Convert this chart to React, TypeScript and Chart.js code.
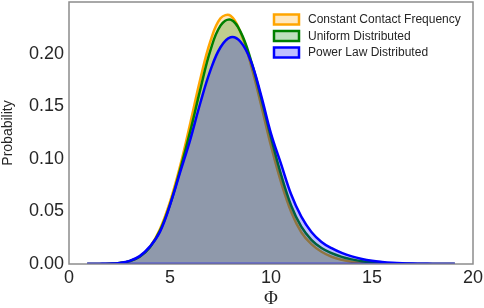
import React, { useEffect, useRef } from 'react';
import { Chart, registerables } from 'chart.js';

Chart.register(...registerables);

const phiValues = [0.9, 1.5, 2, 2.5, 3, 3.5, 4, 4.5, 5, 5.5, 6, 6.5, 7, 7.5, 8, 8.5, 9, 9.5, 10, 10.5, 11, 11.5, 12, 12.5, 13, 13.5, 14, 14.5, 15, 15.5, 16, 16.5, 17, 17.5, 18, 18.5, 19.1];

const constantContact = [0, 0, 0.0002, 0.0008, 0.0026, 0.007, 0.016, 0.033, 0.059, 0.093, 0.1335, 0.1757, 0.2117, 0.2335, 0.236, 0.2197, 0.1898, 0.1518, 0.1123, 0.0775, 0.0495, 0.0302, 0.0188, 0.0116, 0.0069, 0.004, 0.0022, 0.0012, 0.0006, 0.0003, 0.0001, 0, 0, 0, 0, 0, 0];

const uniformDist = [0, 0, 0.0002, 0.0009, 0.0027, 0.0069, 0.0157, 0.0315, 0.0565, 0.0895, 0.126, 0.166, 0.203, 0.2265, 0.2322, 0.2204, 0.1941, 0.1587, 0.1204, 0.0848, 0.0554, 0.0355, 0.023, 0.0152, 0.0103, 0.0068, 0.0044, 0.0026, 0.0015, 0.0008, 0.0004, 0.0002, 0.0001, 0, 0, 0, 0];

const powerLawDist = [0, 0.0001, 0.0003, 0.001, 0.003, 0.0075, 0.0165, 0.0305, 0.056, 0.087, 0.118, 0.153, 0.184, 0.206, 0.2155, 0.211, 0.193, 0.161, 0.124, 0.095, 0.066, 0.045, 0.0305, 0.021, 0.015, 0.0105, 0.0072, 0.0048, 0.0031, 0.002, 0.0012, 0.0007, 0.0004, 0.0002, 0.0001, 0, 0];

const seriesLabels = ['Constant Contact Frequency', 'Uniform Distributed', 'Power Law Distributed'];
const xTickValues = [0, 5, 10, 15, 20];
const yTickValues = [0, 0.05, 0.1, 0.15, 0.2];

const TEXT = '#262626';
const SANS = "'Liberation Sans', Arial, sans-serif";

export default function App() {
  const ref = useRef<HTMLCanvasElement>(null);

  useEffect(() => {
    if (!ref.current) return;
    const toPts = (ys: number[]) => phiValues.map((x, i) => ({ x, y: ys[i] }));

    const framePlugin = {
      id: 'frame',
      afterDraw(chart: any) {
        const { ctx, chartArea: a } = chart;
        ctx.save();
        ctx.strokeStyle = '#8c8c8c';
        ctx.lineWidth = 1.5;
        ctx.strokeRect(a.left, a.top, a.right - a.left, a.bottom - a.top);
        ctx.restore();
      },
    };

    const legendPlugin = {
      id: 'insideLegend',
      afterDraw(chart: any) {
        const { ctx } = chart;
        const rows = [19.5, 36, 52.5];
        ctx.save();
        chart.data.datasets.slice(0, 3).forEach((ds: any, i: number) => {
          const y = rows[i];
          ctx.fillStyle = '#ffffff';
          ctx.fillRect(274, y - 5, 25, 10);
          ctx.fillStyle = ds.backgroundColor;
          ctx.fillRect(274, y - 5, 25, 10);
          ctx.strokeStyle = ds.borderColor;
          ctx.lineWidth = 2.5;
          ctx.strokeRect(274, y - 5, 25, 10);
          ctx.fillStyle = TEXT;
          ctx.font = `12px ${SANS}`;
          ctx.textBaseline = 'middle';
          ctx.textAlign = 'left';
          ctx.fillText(ds.label, 308, y + 0.5);
        });
        ctx.restore();
      },
    };

    const chart = new Chart(ref.current, {
      type: 'line',
      data: {
        datasets: [
          {
            label: seriesLabels[0],
            data: toPts(constantContact),
            borderColor: '#FFA500',
            backgroundColor: 'rgba(255,165,0,0.25)',
            fill: 'origin',
            order: 3,
          },
          {
            label: seriesLabels[1],
            data: toPts(uniformDist),
            borderColor: '#008000',
            backgroundColor: 'rgba(0,128,0,0.25)',
            fill: 'origin',
            order: 2,
          },
          {
            label: seriesLabels[2],
            data: toPts(powerLawDist),
            borderColor: '#0000FF',
            backgroundColor: 'rgba(0,0,255,0.25)',
            fill: 'origin',
            order: 1,
          },
          {
            label: 'baseline',
            data: [
              { x: phiValues[0], y: 0 },
              { x: phiValues[phiValues.length - 1], y: 0 },
            ],
            borderColor: '#0000FF',
            fill: false,
            tension: 0,
            order: 0,
          },
        ],
      } as any,
      options: {
        animation: false,
        responsive: false,
        maintainAspectRatio: false,
        layout: { padding: { left: 0, top: 2, right: 11, bottom: 0 } },
        elements: {
          point: { radius: 0, hoverRadius: 0 },
          line: { borderWidth: 2.5, tension: 0.4 },
        },
        plugins: { legend: { display: false }, tooltip: { enabled: false } },
        scales: {
          x: {
            type: 'linear',
            min: 0,
            max: 20,
            afterBuildTicks: (s: any) => {
              s.ticks = xTickValues.map((v) => ({ value: v }));
            },
            afterFit: (s: any) => {
              s.height = 44;
              s.paddingLeft = 0;
              s.paddingRight = 0;
            },
            grid: { display: false, drawTicks: false },
            border: { display: false },
            ticks: {
              color: TEXT,
              font: { family: SANS, size: 18 },
              padding: 3,
              maxRotation: 0,
              callback: (v: any) => String(v),
            },
            title: {
              display: true,
              text: 'Φ',
              color: TEXT,
              font: { family: "'Liberation Serif', 'DejaVu Serif', serif", size: 19 },
              padding: { top: 0, bottom: -2 },
            },
          },
          y: {
            type: 'linear',
            min: 0,
            max: 0.249,
            afterBuildTicks: (s: any) => {
              s.ticks = yTickValues.map((v) => ({ value: v }));
            },
            afterFit: (s: any) => {
              s.width = 69;
              s.paddingTop = 0;
              s.paddingBottom = 0;
            },
            grid: { display: false, drawTicks: false },
            border: { display: false },
            ticks: {
              color: TEXT,
              font: { family: SANS, size: 18 },
              padding: 5,
              callback: (v: any) => Number(v).toFixed(2),
            },
            title: {
              display: true,
              text: 'Probability',
              color: TEXT,
              font: { family: SANS, size: 14 },
              padding: { top: 0, bottom: 0 },
            },
          },
        },
      } as any,
      plugins: [framePlugin, legendPlugin],
    });
    return () => chart.destroy();
  }, []);

  return (
    <div style={{ position: 'fixed', left: 0, top: 0, width: 484, height: 308, background: '#ffffff' }}>
      <canvas ref={ref} width={484} height={308} style={{ display: 'block', width: 484, height: 308 }} />
    </div>
  );
}
